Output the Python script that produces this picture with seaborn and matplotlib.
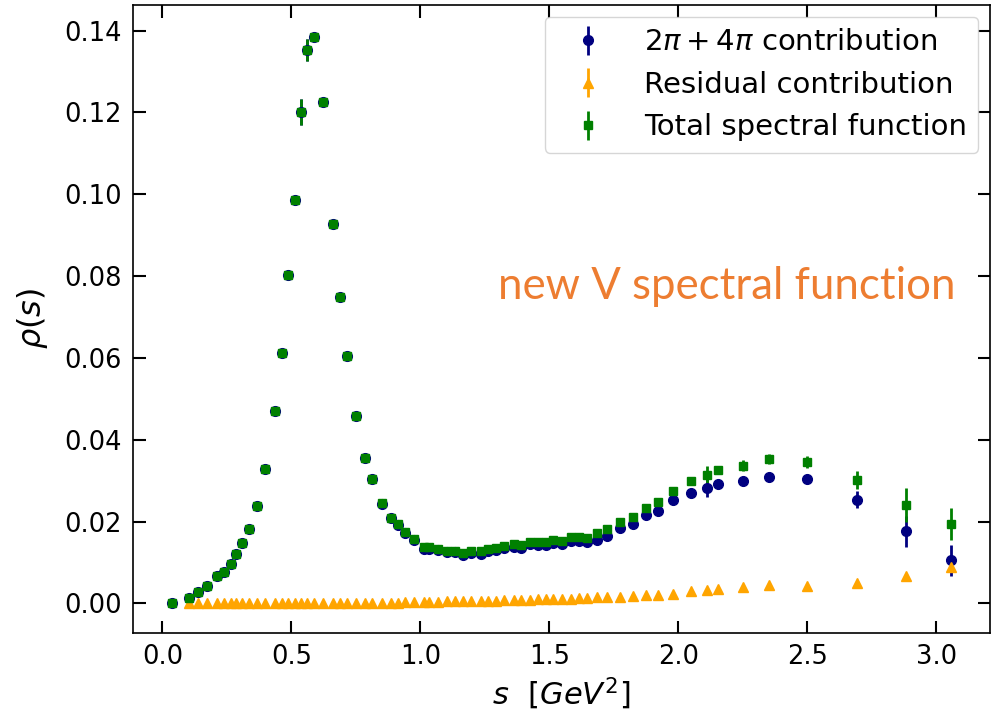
import numpy as np
import seaborn as sns
import matplotlib
matplotlib.use("Agg")
import matplotlib.pyplot as plt
from matplotlib.font_manager import FontProperties

# s values [GeV^2]
s_vals = [0.036, 0.104, 0.139, 0.174, 0.211, 0.240, 0.264, 0.287, 0.310, 0.336,
          0.365, 0.399, 0.435, 0.464, 0.488, 0.513, 0.536, 0.562, 0.588, 0.622,
          0.661, 0.688, 0.714, 0.751, 0.787, 0.813, 0.852, 0.885, 0.912, 0.939,
          0.977, 1.013, 1.034, 1.067, 1.102, 1.135, 1.164, 1.197, 1.237, 1.264,
          1.292, 1.326, 1.363, 1.392, 1.426, 1.457, 1.486, 1.516, 1.550, 1.585,
          1.616, 1.648, 1.685, 1.725, 1.775, 1.824, 1.875, 1.922, 1.978, 2.049,
          2.110, 2.155, 2.250, 2.353, 2.501, 2.692, 2.882, 3.058]

total = [0.0000, 0.0014, 0.0027, 0.0043, 0.0067, 0.0078, 0.0096, 0.0121, 0.0148, 0.0183,
         0.0239, 0.0329, 0.0470, 0.0613, 0.0803, 0.0985, 0.1202, 0.1353, 0.1385, 0.1225,
         0.0928, 0.0750, 0.0605, 0.0459, 0.0356, 0.0304, 0.0246, 0.0210, 0.0194, 0.0174,
         0.0157, 0.0137, 0.0137, 0.0133, 0.0129, 0.0129, 0.0124, 0.0128, 0.0127, 0.0133,
         0.0136, 0.0141, 0.0145, 0.0142, 0.0151, 0.0149, 0.0149, 0.0156, 0.0153, 0.0162,
         0.0162, 0.0160, 0.0172, 0.0182, 0.0200, 0.0211, 0.0234, 0.0248, 0.0276, 0.0299,
         0.0315, 0.0326, 0.0337, 0.0353, 0.0346, 0.0302, 0.0240, 0.0194]

total_err = [0.0002, 0.0002, 0.0002, 0.0002, 0.0002, 0.0002, 0.0002, 0.0003, 0.0003, 0.0003,
             0.0003, 0.0004, 0.0005, 0.0006, 0.0012, 0.0010, 0.0032, 0.0026, 0.0008, 0.0007,
             0.0006, 0.0005, 0.0004, 0.0004, 0.0003, 0.0003, 0.0003, 0.0003, 0.0003, 0.0003,
             0.0003, 0.0003, 0.0003, 0.0003, 0.0003, 0.0003, 0.0003, 0.0003, 0.0003, 0.0003,
             0.0003, 0.0003, 0.0003, 0.0003, 0.0003, 0.0003, 0.0003, 0.0003, 0.0003, 0.0003,
             0.0003, 0.0003, 0.0004, 0.0004, 0.0004, 0.0004, 0.0005, 0.0005, 0.0006, 0.0006,
             0.0020, 0.0008, 0.0014, 0.0012, 0.0014, 0.0022, 0.0041, 0.0039]

two_four_pi = [0.0000, 0.0014, 0.0027, 0.0043, 0.0067, 0.0078, 0.0096, 0.0121, 0.0148, 0.0183,
               0.0239, 0.0329, 0.0470, 0.0613, 0.0803, 0.0985, 0.1202, 0.1353, 0.1385, 0.1225,
               0.0928, 0.0750, 0.0605, 0.0459, 0.0355, 0.0303, 0.0244, 0.0208, 0.0192, 0.0171,
               0.0154, 0.0134, 0.0133, 0.0130, 0.0126, 0.0125, 0.0119, 0.0123, 0.0121, 0.0128,
               0.0131, 0.0135, 0.0139, 0.0136, 0.0145, 0.0142, 0.0142, 0.0148, 0.0145, 0.0153,
               0.0153, 0.0150, 0.0156, 0.0166, 0.0185, 0.0194, 0.0215, 0.0227, 0.0252, 0.0271,
               0.0282, 0.0292, 0.0299, 0.0309, 0.0305, 0.0254, 0.0176, 0.0105]

two_four_pi_err = [0.0002, 0.0002, 0.0002, 0.0002, 0.0002, 0.0002, 0.0002, 0.0003, 0.0003, 0.0003,
                   0.0003, 0.0004, 0.0005, 0.0006, 0.0012, 0.0010, 0.0032, 0.0026, 0.0008, 0.0007,
                   0.0006, 0.0005, 0.0004, 0.0004, 0.0003, 0.0003, 0.0003, 0.0003, 0.0003, 0.0003,
                   0.0003, 0.0003, 0.0003, 0.0003, 0.0003, 0.0003, 0.0003, 0.0003, 0.0003, 0.0003,
                   0.0003, 0.0003, 0.0003, 0.0003, 0.0003, 0.0003, 0.0003, 0.0003, 0.0003, 0.0003,
                   0.0003, 0.0003, 0.0004, 0.0004, 0.0004, 0.0004, 0.0005, 0.0005, 0.0006, 0.0006,
                   0.0022, 0.0008, 0.0008, 0.0008, 0.0008, 0.0021, 0.0038, 0.0037]

# residual is not given at the first s point
s_resid = s_vals[1:]
residual = [0.0000, 0.0000, 0.0000, 0.0000, 0.0000, 0.0000, 0.0000, 0.0000, 0.0000,
            0.0000, 0.0000, 0.0000, 0.0000, 0.0000, 0.0000, 0.0000, 0.0000, 0.0000,
            0.0000, 0.0000, 0.0000, 0.0000, 0.0000, 0.0001, 0.0001, 0.0002, 0.0002, 0.0002,
            0.0003, 0.0003, 0.0004, 0.0004, 0.0004, 0.0005, 0.0005, 0.0006, 0.0006, 0.0006,
            0.0007, 0.0007, 0.0008, 0.0008, 0.0009, 0.0009, 0.0010, 0.0010, 0.0011, 0.0012,
            0.0012, 0.0013, 0.0014, 0.0015, 0.0015, 0.0016, 0.0017, 0.0020, 0.0020, 0.0022,
            0.0030, 0.0033, 0.0035, 0.0040, 0.0046, 0.0043, 0.0049, 0.0066, 0.0090]
residual_err = [0.0001] * 55 + [0.0002, 0.0002, 0.0002, 0.0003, 0.0003, 0.0003,
                                0.0004, 0.0004, 0.0005, 0.0006, 0.0008, 0.0010]

sns.set_theme(style="ticks")
plt.rcParams['font.family'] = ['DejaVu Sans']
plt.rcParams['font.sans-serif'] = ['DejaVu Sans']
plt.rcParams['mathtext.fontset'] = 'dejavusans'
plt.rcParams['text.color'] = 'black'
plt.rcParams['axes.labelcolor'] = 'black'

fig, ax = plt.subplots(figsize=(9.91, 7.11), dpi=100)
fig.subplots_adjust(left=0.134, right=0.999, top=0.993, bottom=0.110)

ax.errorbar(s_vals, two_four_pi, yerr=two_four_pi_err, fmt='o', color='navy',
            markersize=7, elinewidth=2, capsize=0, label=r'$2\pi + 4\pi$ contribution')
ax.errorbar(s_resid, residual, yerr=residual_err, fmt='^', color='orange',
            markersize=6.5, elinewidth=2, capsize=0, label='Residual contribution')
ax.errorbar(s_vals, total, yerr=total_err, fmt='s', color='green',
            markersize=6, elinewidth=2, capsize=0, label='Total spectral function')

ax.set_xlabel(r'$s\ \ [GeV^2]$', fontsize=22, labelpad=4)
ax.set_ylabel(r'$\rho(s)$', fontsize=23, labelpad=10)
ax.set_xticks([0.0, 0.5, 1.0, 1.5, 2.0, 2.5, 3.0])
ax.set_yticks([0.00, 0.02, 0.04, 0.06, 0.08, 0.10, 0.12, 0.14])
ax.xaxis.set_major_formatter(matplotlib.ticker.FormatStrFormatter('%.1f'))
ax.yaxis.set_major_formatter(matplotlib.ticker.FormatStrFormatter('%.2f'))
ax.tick_params(direction='in', top=True, right=True, length=9, width=1.5,
               labelsize=18.5, pad=8, colors='black')
for sp in ax.spines.values():
    sp.set_linewidth(1.2)
    sp.set_color('black')

note_font = FontProperties(family='Lato', size=31.5)
ax.text(1.302, 0.0775, 'new V spectral function', fontproperties=note_font,
        color='#ED7D31', va='center', ha='left')

ax.legend(loc='upper right', prop=FontProperties(family='DejaVu Sans', size=21),
          frameon=True, edgecolor='#cccccc', borderaxespad=0.4, handlelength=2.2)

fig.savefig('out.png', dpi=100)
